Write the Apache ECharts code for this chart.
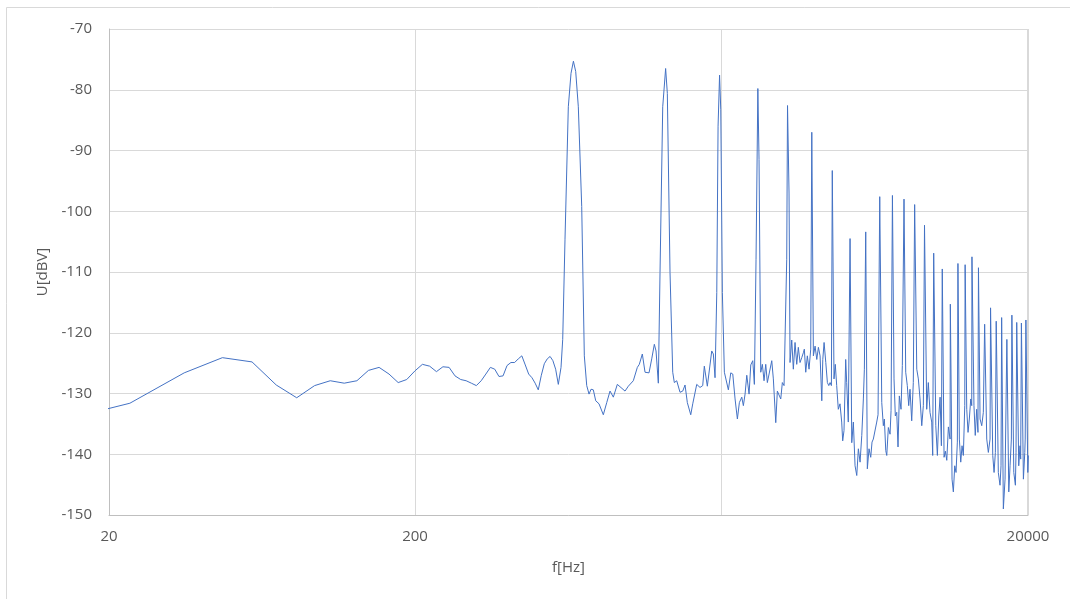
<!DOCTYPE html>
<html>
<head>
<meta charset="utf-8">
<title>Spectrum</title>
<script src="https://cdn.jsdelivr.net/npm/echarts@6/dist/echarts.min.js"></script>
<style>
  html, body { margin: 0; padding: 0; background: #ffffff; }
  #chart { width: 1070px; height: 599px; }
</style>
</head>
<body>
<div id="chart"></div>
<script>
// FFT bins below the fundamental (Hz) and their levels (dBV)
const lowBandFreqs = [11.7, 23.4, 35.2, 46.9, 58.6, 70.3, 82.0, 93.8, 105.5, 117.2,
  128.9, 140.6, 152.3, 164.1, 175.8, 187.5, 199.2, 210.9, 222.7, 234.4,
  246.1, 257.8, 269.5, 281.3, 293.0, 304.7, 316.4, 328.1, 339.8, 351.6,
  363.3, 375.0, 386.7, 398.4, 410.2, 421.9, 433.6, 445.3, 457.0, 468.8,
  480.5, 492.2, 503.9, 515.6, 527.3, 539.1, 550.8, 562.5, 574.2, 585.9];
const lowBandLevels = [-135.4, -131.6, -126.6, -124.1, -124.8, -128.6, -130.7, -128.7, -127.9, -128.3,
  -127.9, -126.2, -125.7, -126.8, -128.2, -127.7, -126.3, -125.2, -125.5, -126.4,
  -125.6, -125.7, -127.1, -127.7, -127.9, -128.3, -128.7, -127.9, -126.8, -125.7,
  -126.0, -127.2, -127.1, -125.4, -124.9, -124.9, -124.3, -123.8, -125.3, -126.8,
  -127.4, -128.3, -129.4, -127.0, -125.1, -124.3, -123.9, -124.6, -126.0, -128.5];

// Harmonic peaks of the 656 Hz tone
const harmonicFreqs = [656.25, 1312.5, 1968.75, 2625, 3281.25, 3937.5, 4593.75, 5250, 5906.25, 6562.5,
  7218.75, 7875, 8531.25, 9187.5, 9843.75, 10500, 11156.25, 11812.5, 12468.75, 13125,
  13781.25, 14437.5, 15093.75, 15750, 16406.25, 17062.5, 17718.75, 18375, 19031.25, 19687.5];
const harmonicLevels = [-75.3, -76.5, -77.6, -79.8, -82.6, -87.0, -93.3, -104.5, -103.4, -97.6,
  -97.4, -98.0, -98.9, -102.3, -106.9, -109.5, -115.3, -108.6, -108.8, -107.5,
  -109.3, -118.6, -115.9, -118.1, -117.5, -121.1, -117.1, -118.3, -118.4, -117.9];

// Peak skirts and noise floor between the harmonics
const floorFreqs = [597.9, 605.5, 616.1, 631.6, 644.5, 667.7, 680.9, 698.5, 712.3, 725.3,
  738.0, 749.1, 762.2, 776.1, 795.6, 821.7, 843.0, 864.2, 885.9, 912.9,
  967.3, 991.5, 1029.5, 1061.0, 1077.0, 1101.7, 1124.2, 1158.5, 1182.3, 1205.7,
  1221.2, 1242.5, 1258.4, 1284.2, 1329.4, 1356.6, 1384.4, 1401.2, 1426.7, 1462.5,
  1492.6, 1518.6, 1545.1, 1585.1, 1609.1, 1658.2, 1699.8, 1734.7, 1755.6, 1795.8,
  1856.2, 1878.6, 1902.9, 1927.8, 1946.7, 1986.6, 2010.6, 2041.1, 2067.3, 2103.4,
  2141.6, 2174.1, 2212.1, 2250.7, 2284.7, 2326.3, 2354.4, 2384.8, 2415.4, 2457.6,
  2489.2, 2526.9, 2557.4, 2589.7, 2648.8, 2682.8, 2715.3, 2750.2, 2785.7, 2819.3,
  2861.8, 2914.3, 2949.5, 3003.3, 3039.5, 3078.9, 3118.2, 3155.8, 3196.5, 3227.7,
  3261.6, 3318.5, 3343.6, 3386.6, 3427.6, 3471.6, 3516.2, 3558.9, 3604.8, 3651.0,
  3695.3, 3723.2, 3762.6, 3807.9, 3856.8, 3906.3, 3985.1, 4036.3, 4088.3, 4137.9,
  4191.1, 4245.0, 4276.9, 4319.0, 4374.6, 4427.3, 4474.2, 4518.3, 4562.8, 4653.0,
  4698.5, 4748.1, 4806.0, 4867.5, 4930.0, 4967.2, 5016.4, 5080.7, 5118.8, 5180.8,
  5317.7, 5381.8, 5451.1, 5521.4, 5588.1, 5660.0, 5733.0, 5802.3, 5845.9, 5977.7,
  6054.5, 6132.5, 6192.7, 6253.5, 6333.9, 6415.4, 6478.6, 6662.3, 6742.3, 6793.5,
  6865.7, 6917.5, 7000.9, 7090.8, 7144.6, 7306.1, 7377.6, 7455.5, 7529.2, 7603.5,
  7701.0, 7776.8, 7976.6, 8072.7, 8158.5, 8238.8, 8344.4, 8445.2, 8667, 8772,
  8884, 8999, 9108, 9341, 9454, 9575, 9698, 9772, 10000, 10121,
  10229, 10329, 10431, 10643, 10748, 10861, 10993, 11134, 11300, 11411,
  11531, 11645, 11760, 11938, 12064, 12182, 12302, 12433, 12620, 12743,
  12869, 13005, 13103, 13324, 13454, 13597, 13731, 13948, 14127, 14297,
  14667, 14845, 15035, 15346, 15497, 15649, 16000, 16207, 16330, 16618,
  16831, 17308, 17477, 17650, 17974, 18192, 18279, 18654, 18836, 18932,
  19320, 19524, 19584, 19971, 20060];
const floorLevels = [-125.7, -121.1, -104.6, -82.8, -77.3, -77.0, -82.8, -99.2, -123.8, -128.7,
  -130.1, -129.3, -129.4, -131.2, -131.7, -133.5, -131.5, -129.6, -130.6, -128.5,
  -129.6, -128.8, -127.9, -125.7, -125.2, -123.5, -126.5, -126.6, -124.3, -121.9,
  -123.0, -128.3, -110.1, -82.8, -80.6, -110.1, -126.5, -128.2, -127.9, -129.8,
  -129.6, -128.6, -131.5, -133.5, -131.7, -128.5, -129.0, -128.7, -125.5, -128.8,
  -123.0, -123.5, -127.4, -113.4, -86.0, -83.3, -113.4, -126.5, -126.4, -129.4,
  -126.6, -126.8, -130.9, -134.2, -131.5, -130.6, -132.0, -130.1, -127.0, -130.1,
  -125.3, -124.6, -128.5, -107.9, -91.5, -126.5, -125.2, -127.9, -125.2, -128.2,
  -128.5, -124.6, -127.6, -134.8, -129.6, -129.8, -130.9, -128.2, -128.7, -128.5,
  -107.9, -97.0, -124.9, -121.2, -126.0, -121.6, -125.2, -122.4, -124.9, -124.1,
  -123.3, -122.7, -126.5, -123.8, -126.0, -122.7, -123.8, -122.2, -124.4, -122.4,
  -123.8, -131.2, -124.4, -121.6, -124.9, -128.2, -128.7, -128.2, -128.7, -127.6,
  -125.2, -128.7, -132.6, -131.7, -134.7, -137.8, -136.1, -124.4, -128.2, -134.7,
  -138.1, -134.7, -141.9, -143.5, -139.1, -141.3, -136.9, -130.9, -126.0, -142.4,
  -139.1, -140.5, -138.0, -137.5, -137.3, -134.7, -133.5, -131.5, -135.3, -134.2,
  -139.4, -140.2, -135.6, -136.7, -132.8, -127.6, -133.7, -133.1, -138.8, -130.4,
  -132.6, -125.4, -126.5, -128.7, -132.0, -129.3, -134.5, -128.2, -126.0, -127.6,
  -130.9, -135.3, -132.0, -132.6, -128.2, -133.1, -134.7, -140.2, -135.3, -140.2,
  -133.7, -130.6, -138.6, -140.5, -139.5, -141.0, -135.5, -137.5, -144.1, -146.2,
  -141.9, -143.0, -138.0, -137.5, -141.3, -138.6, -140.2, -132.0, -132.6, -136.4,
  -134.2, -130.9, -132.0, -132.0, -136.9, -132.6, -136.4, -134.2, -135.3, -133.1,
  -137.5, -139.7, -137.5, -140.2, -143.0, -139.7, -143.0, -145.1, -141.9, -149.0,
  -144.1, -146.2, -141.9, -137.5, -143.0, -145.1, -139.7, -141.9, -138.6, -140.8,
  -144.1, -139.7, -137.5, -143.0, -140.2];

// Axis tick labels
const freqTicks = ['20', '200', '2000', '20000'];
const levelTicks = ['-150', '-140', '-130', '-120', '-110', '-100', '-90', '-80', '-70'];

// Merge all pieces into one frequency-ordered trace
const spectrum = [];
lowBandFreqs.forEach((f, i) => spectrum.push([f, lowBandLevels[i]]));
harmonicFreqs.forEach((f, i) => spectrum.push([f, harmonicLevels[i]]));
floorFreqs.forEach((f, i) => spectrum.push([f, floorLevels[i]]));
spectrum.sort((a, b) => a[0] - b[0]);

const textColor = '#595959';
const fontFamily = '"Open Sans", "Liberation Sans", sans-serif';

const chart = echarts.init(document.getElementById('chart'), null, { renderer: 'canvas' });
chart.setOption({
  animation: false,
  backgroundColor: '#ffffff',
  graphic: [{
    type: 'rect',
    z: -10,
    silent: true,
    shape: { x: 6.5, y: 7.5, width: 1200, height: 700 },
    style: { fill: 'none', stroke: '#d9d9d9', lineWidth: 1 }
  }],
  grid: { left: 109, top: 29, width: 919, height: 486, containLabel: false },
  xAxis: {
    type: 'log',
    logBase: 10,
    min: 20,
    max: 20000,
    interval: 1,
    name: 'f[Hz]',
    nameLocation: 'middle',
    nameGap: 45,
    nameTextStyle: { color: textColor, fontSize: 15, fontFamily: fontFamily },
    axisLine: { show: true, lineStyle: { color: '#bfbfbf', width: 1 } },
    axisTick: { show: false },
    minorTick: { show: false },
    axisLabel: {
      color: textColor, fontSize: 15, fontFamily: fontFamily, margin: 14,
      formatter: function (v) {
        const r = Math.round(v);
        const idx = freqTicks.indexOf(String(r));
        return idx >= 0 ? freqTicks[idx] : '';
      }
    },
    splitLine: { show: true, lineStyle: { color: '#d9d9d9', width: 1 } }
  },
  yAxis: {
    type: 'value',
    min: -150,
    max: -70,
    interval: 10,
    name: 'U[dBV]',
    nameLocation: 'middle',
    nameGap: 57,
    nameRotate: 90,
    nameTextStyle: { color: textColor, fontSize: 15, fontFamily: fontFamily },
    axisLine: { show: true, lineStyle: { color: '#bfbfbf', width: 1 } },
    axisTick: { show: false },
    axisLabel: {
      color: textColor, fontSize: 15, fontFamily: fontFamily, margin: 17,
      formatter: function (v) {
        const s = String(Math.round(v));
        return levelTicks.indexOf(s) >= 0 ? s : '';
      }
    },
    splitLine: { show: true, lineStyle: { color: '#d9d9d9', width: 1 } }
  },
  series: [{
    type: 'line',
    data: spectrum,
    showSymbol: false,
    symbol: 'none',
    clip: true,
    lineStyle: { color: '#4472C4', width: 1 },
    z: 5
  }]
});
</script>
</body>
</html>
